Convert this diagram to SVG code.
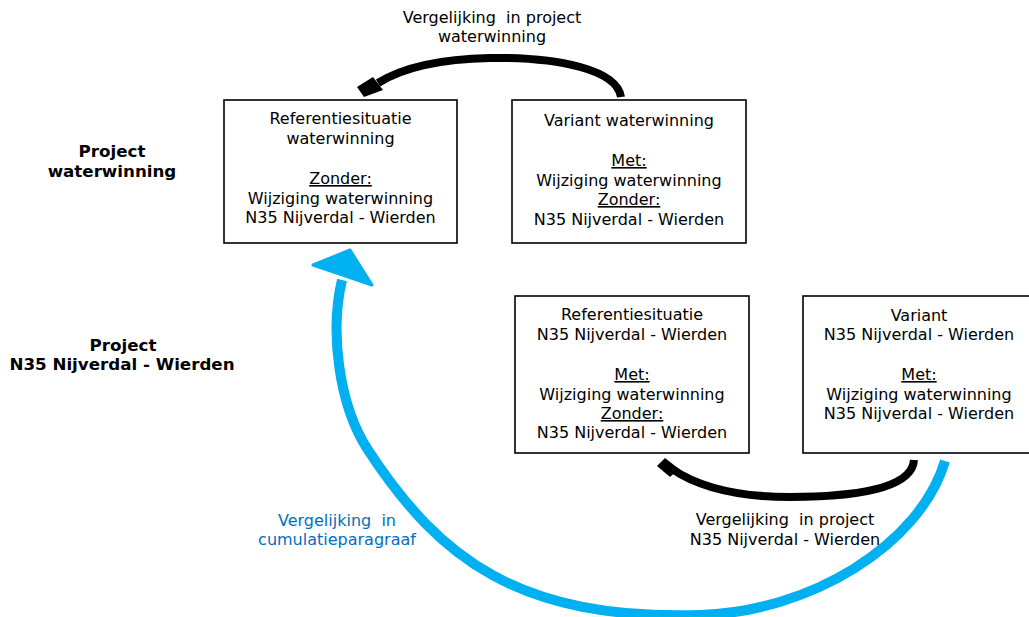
<svg xmlns="http://www.w3.org/2000/svg" width="1029" height="617" viewBox="0 0 1029 617">
<style>
text{font-family:"DejaVu Sans",Verdana,sans-serif;font-size:16px;fill:#000;text-anchor:middle}
.b{font-weight:bold;font-size:16.7px}
.u{text-decoration:underline}
.pre{white-space:pre}
.blue{fill:#0070c0}
.box{fill:#fff;stroke:#000;stroke-width:1.6}
.blk{fill:none;stroke:#000;stroke-width:8}
.cyan{fill:none;stroke:#00b0f0;stroke-width:10}
</style>
<rect width="1029" height="617" fill="#fff"/>
<g id="connectors">
<path class="blk" d="M 621 97 C 617 70 560 57 490 58 C 440 59 402 68 378 83"/>
<polygon points="373,77 383,90 364,97 357,87" fill="#000"/>
<path class="blk" d="M 914 460 C 912 490 850 497 790 497 C 740 497 700 488 672 469"/>
<polygon points="657,466 665,458 679,469 670,477" fill="#000"/>
<path class="cyan" d="M 945 461 C 920 545 810 612 700 615 C 520 620 440 560 368 450 C 338 404 330 330 342 280"/>
<polygon points="313,265 350,250 372,285" fill="#00b0f0" stroke="#00b0f0" stroke-width="3" stroke-linejoin="round"/>
</g>
<g id="label-top">
<text class="pre" x="492" y="23">Vergelijking  in project</text>
<text x="492" y="42">waterwinning</text>
</g>
<g id="label-bottom">
<text class="pre" x="785" y="525">Vergelijking  in project</text>
<text x="785" y="545">N35 Nijverdal - Wierden</text>
</g>
<g id="label-cumulatie">
<text class="blue pre" x="337" y="526">Vergelijking  in</text>
<text class="blue" x="337" y="545">cumulatieparagraaf</text>
</g>
<g id="row-waterwinning">
<text class="b" x="112" y="157">Project</text>
<text class="b" x="112" y="177">waterwinning</text>
</g>
<g id="row-n35">
<text class="b" x="123" y="351">Project</text>
<text class="b" x="122" y="370">N35 Nijverdal - Wierden</text>
</g>
<g id="ref-waterwinning">
<rect class="box" x="224" y="100" width="233" height="143"/>
<text x="340.5" y="124">Referentiesituatie</text>
<text x="340.5" y="144">waterwinning</text>
<text class="u" x="340.5" y="184">Zonder:</text>
<text x="340.5" y="204">Wijziging waterwinning</text>
<text x="340.5" y="223">N35 Nijverdal - Wierden</text>
</g>
<g id="variant-waterwinning">
<rect class="box" x="512" y="100" width="234" height="143"/>
<text x="629" y="126">Variant waterwinning</text>
<text class="u" x="629" y="166">Met:</text>
<text x="629" y="186">Wijziging waterwinning</text>
<text class="u" x="629" y="205">Zonder:</text>
<text x="629" y="225">N35 Nijverdal - Wierden</text>
</g>
<g id="ref-n35">
<rect class="box" x="515" y="296" width="234" height="157"/>
<text x="632" y="320">Referentiesituatie</text>
<text x="632" y="340">N35 Nijverdal - Wierden</text>
<text class="u" x="632" y="380">Met:</text>
<text x="632" y="400">Wijziging waterwinning</text>
<text class="u" x="632" y="419">Zonder:</text>
<text x="632" y="438">N35 Nijverdal - Wierden</text>
</g>
<g id="variant-n35">
<rect class="box" x="803" y="296" width="234" height="157"/>
<text x="919" y="321">Variant</text>
<text x="919" y="340">N35 Nijverdal - Wierden</text>
<text class="u" x="919" y="380">Met:</text>
<text x="919" y="400">Wijziging waterwinning</text>
<text x="919" y="419">N35 Nijverdal - Wierden</text>
</g>
</svg>
